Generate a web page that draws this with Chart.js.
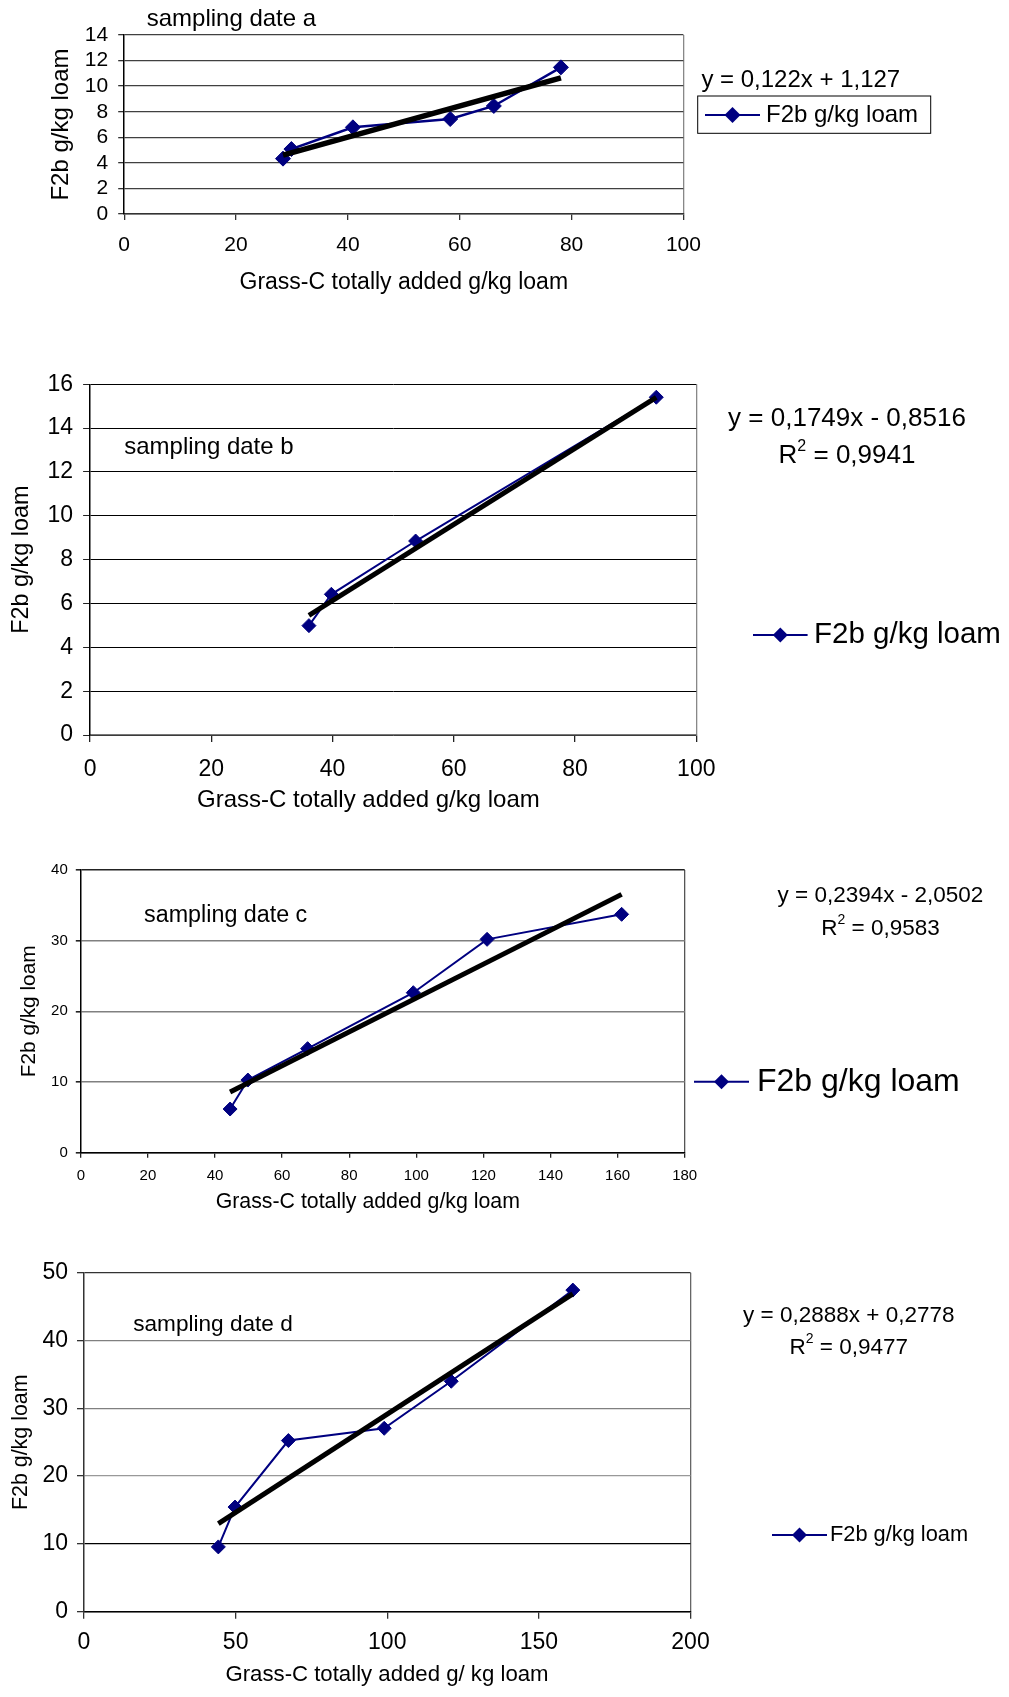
<!DOCTYPE html>
<html lang="en">
<head>
<meta charset="UTF-8">
<title>F2b vs Grass-C added</title>
<script src="https://cdn.jsdelivr.net/npm/chart.js"></script>
<style>
  body { margin: 0; background: #fff; }
  .page { position: relative; width: 1009px; height: 1697px; }
  canvas { position: absolute; left: 0; }
</style>
</head>
<body>
<div class="page">
  <canvas id="chartA" width="1009" height="300" style="top:0px"></canvas>
  <canvas id="chartB" width="1009" height="480" style="top:340px"></canvas>
  <canvas id="chartC" width="1009" height="370" style="top:850px"></canvas>
  <canvas id="chartD" width="1009" height="447" style="top:1250px"></canvas>
</div>
<script>
const FONT = "'Liberation Sans', Arial, sans-serif";
const NAVY = '#000080';

// sampling date a
const grassA = [28.4, 29.9, 40.9, 58.3, 66.1, 78.1];
const f2bA = [4.33, 5.08, 6.78, 7.43, 8.45, 11.47];
const trendXA = [28.4, 78.1];
const trendYA = [4.6, 10.65];

// sampling date b
const grassB = [36.1, 39.8, 53.7, 93.4];
const f2bB = [4.99, 6.42, 8.85, 15.41];
const trendXB = [36.1, 93.4];
const trendYB = [5.46, 15.4];

// sampling date c
const grassC = [44.5, 49.8, 67.6, 99.1, 121.1, 161.2];
const f2bC = [6.18, 10.28, 14.72, 22.64, 30.19, 33.73];
const trendXC = [44.5, 161.2];
const trendYC = [8.6, 36.55];

// sampling date d
const grassD = [44.3, 49.8, 67.4, 99.0, 121.1, 161.2];
const f2bD = [9.56, 15.44, 25.25, 27.06, 34.0, 47.45];
const trendXD = [44.3, 161.2];
const trendYD = [13.0, 46.9];

// axis ranges: [min, max, step]
const xTicksA = [0, 100, 20], yTicksA = [0, 14, 2];
const xTicksB = [0, 100, 20], yTicksB = [0, 16, 2];
const xTicksC = [0, 180, 20], yTicksC = [0, 40, 10];
const xTicksD = [0, 200, 50], yTicksD = [0, 50, 10];

const seriesName = 'F2b g/kg loam';
const yTitle = 'F2b g/kg loam';
const xTitles = ['Grass-C totally added g/kg loam', 'Grass-C totally added g/kg loam',
  'Grass-C totally added g/kg loam', 'Grass-C totally added g/ kg loam'];
const panelTitles = ['sampling date a', 'sampling date b', 'sampling date c', 'sampling date d'];
const equations = ['y = 0,122x + 1,127', 'y = 0,1749x - 0,8516', 'y = 0,2394x - 2,0502', 'y = 0,2888x + 0,2778'];
const rSquared = [null, '0,9941', '0,9583', '0,9477'];

function pts(xs, ys) {
  return xs.map((x, i) => ({ x: x, y: ys[i] }));
}

function diamond(ctx, x, y, r) {
  ctx.beginPath();
  ctx.moveTo(x - r, y);
  ctx.lineTo(x, y - r);
  ctx.lineTo(x + r, y);
  ctx.lineTo(x, y + r);
  ctx.closePath();
  ctx.fill();
}

// titles, equation, R2 and legend drawn on top of the chart
const notesPlugin = {
  id: 'notes',
  afterDraw(chart, args, o) {
    const ctx = chart.ctx;
    ctx.save();
    ctx.fillStyle = '#000';
    ctx.textBaseline = 'middle';

    ctx.textAlign = 'left';
    ctx.font = o.titleSize + 'px ' + FONT;
    ctx.fillText(o.title, o.titleX, o.titleY);

    ctx.textAlign = 'center';
    ctx.font = o.xTitleSize + 'px ' + FONT;
    ctx.fillText(o.xTitle, o.xTitleX, o.xTitleY);

    ctx.font = o.eqSize + 'px ' + FONT;
    ctx.fillText(o.eq, o.eqX, o.eqY);

    if (o.r2) {
      const big = o.eqSize + 'px ' + FONT;
      const small = Math.round(o.eqSize * 0.6) + 'px ' + FONT;
      ctx.font = big;
      const wR = ctx.measureText('R').width;
      const wRest = ctx.measureText(' = ' + o.r2).width;
      ctx.font = small;
      const w2 = ctx.measureText('2').width;
      let x = o.eqX - (wR + w2 + wRest) / 2;
      ctx.textAlign = 'left';
      ctx.font = big;
      ctx.fillText('R', x, o.r2Y);
      x += wR;
      ctx.font = small;
      ctx.fillText('2', x, o.r2Y - o.eqSize * 0.38);
      x += w2;
      ctx.font = big;
      ctx.fillText(' = ' + o.r2, x, o.r2Y);
    }

    const lg = o.legend;
    if (lg.box) {
      ctx.strokeStyle = '#000';
      ctx.lineWidth = 1;
      ctx.strokeRect(lg.box[0], lg.box[1], lg.box[2], lg.box[3]);
    }
    ctx.strokeStyle = NAVY;
    ctx.lineWidth = 2;
    ctx.beginPath();
    ctx.moveTo(lg.x0, lg.y);
    ctx.lineTo(lg.x1, lg.y);
    ctx.stroke();
    ctx.fillStyle = NAVY;
    diamond(ctx, (lg.x0 + lg.x1) / 2, lg.y, lg.r);
    ctx.fillStyle = '#000';
    ctx.textAlign = 'left';
    ctx.font = lg.size + 'px ' + FONT;
    ctx.fillText(seriesName, lg.tx, lg.y);
    ctx.restore();
  }
};

function makeChart(id, s) {
  const config = {
    type: 'scatter',
    data: {
      datasets: [
        {
          label: 'trend',
          data: pts(s.trendX, s.trendY),
          showLine: true,
          borderColor: '#000',
          borderWidth: s.trendWidth,
          pointRadius: 0,
          order: 0
        },
        {
          label: seriesName,
          data: pts(s.x, s.y),
          showLine: true,
          borderColor: NAVY,
          borderWidth: s.lineWidth,
          pointStyle: 'rectRot',
          pointRadius: s.markR,
          pointBackgroundColor: NAVY,
          pointBorderColor: NAVY,
          pointBorderWidth: 1,
          order: 1
        }
      ]
    },
    options: {
      responsive: false,
      animation: false,
      layout: { padding: s.pad },
      plugins: {
        legend: { display: false },
        tooltip: { enabled: false },
        notes: s.notes
      },
      scales: {
        x: {
          type: 'linear',
          min: s.xTicks[0], max: s.xTicks[1],
          afterFit: sc => { sc.height = s.xH; },
          ticks: {
            stepSize: s.xTicks[2], autoSkip: false, maxRotation: 0,
            color: '#000', padding: s.xPad,
            font: { family: FONT, size: s.tickSize }
          },
          grid: {
            drawOnChartArea: true,
            color: c => (c.tick && c.tick.value === s.xTicks[1]) ? s.rightColor : 'rgba(0,0,0,0)',
            lineWidth: 1.3,
            tickColor: s.tickColor,
            tickLength: s.tickLen
          },
          border: { color: s.bottomColor, width: 1.5 }
        },
        y: {
          min: s.yTicks[0], max: s.yTicks[1],
          afterFit: sc => { sc.width = s.yW; },
          ticks: {
            stepSize: s.yTicks[2], autoSkip: false, color: '#000', padding: s.yPad,
            font: { family: FONT, size: s.tickSize }
          },
          grid: {
            color: s.gridColor,
            lineWidth: s.gridWidth,
            tickColor: s.tickColor,
            tickLength: s.tickLen
          },
          border: { color: s.leftColor, width: 1.5 },
          title: {
            display: true, text: yTitle, color: '#000', padding: 0,
            font: { family: FONT, size: s.yTitleSize }
          }
        }
      }
    },
    plugins: [notesPlugin]
  };
  return new Chart(document.getElementById(id), config);
}

const chartA = makeChart('chartA', {
  x: grassA, y: f2bA, trendX: trendXA, trendY: trendYA,
  xTicks: xTicksA, yTicks: yTicksA,
  pad: { left: 46.6, right: 325.6, top: 35, bottom: 26 },
  yW: 77.6, xH: 60, tickSize: 21, yTitleSize: 24, tickLen: 6, xPad: 12.4, yPad: 10,
  lineWidth: 2.5, trendWidth: 5.5, markR: 7.5,
  gridColor: '#404040', gridWidth: 1.3, tickColor: '#333',
  leftColor: '#000', bottomColor: '#333', rightColor: '#888',
  notes: {
    title: panelTitles[0], titleX: 146.7, titleY: 19, titleSize: 24,
    xTitle: xTitles[0], xTitleX: 403.8, xTitleY: 283, xTitleSize: 23,
    eq: equations[0], eqX: 800.8, eqY: 80, eqSize: 24, r2: rSquared[0],
    legend: { box: [697.7, 96, 233, 37.3], x0: 705, x1: 760, y: 115, r: 8, tx: 766, size: 24 }
  }
});

const chartB = makeChart('chartB', {
  x: grassB, y: f2bB, trendX: trendXB, trendY: trendYB,
  xTicks: xTicksB, yTicks: yTicksB,
  pad: { left: 7.2, right: 312.7, top: 44.3, bottom: 25 },
  yW: 82.9, xH: 60, tickSize: 23, yTitleSize: 23.4, tickLen: 7, xPad: 13.5, yPad: 10,
  lineWidth: 2, trendWidth: 5, markR: 7,
  gridColor: '#000', gridWidth: 1, tickColor: '#222',
  leftColor: '#000', bottomColor: '#777', rightColor: '#888',
  notes: {
    title: panelTitles[1], titleX: 124.2, titleY: 107, titleSize: 24,
    xTitle: xTitles[1], xTitleX: 368.4, xTitleY: 460, xTitleSize: 24,
    eq: equations[1], eqX: 847, eqY: 79, eqSize: 26, r2: rSquared[1], r2Y: 116,
    legend: { box: null, x0: 753, x1: 807.6, y: 295, r: 7.5, tx: 814, size: 29.5 }
  }
});

const chartC = makeChart('chartC', {
  x: grassC, y: f2bC, trendX: trendXC, trendY: trendYC,
  xTicks: xTicksC, yTicks: yTicksC,
  pad: { left: 16.5, right: 324.3, top: 20, bottom: 17.3 },
  yW: 64.3, xH: 50, tickSize: 15, yTitleSize: 20.8, tickLen: 5, xPad: 9.3, yPad: 8,
  lineWidth: 2, trendWidth: 5, markR: 7,
  gridColor: c => (c.tick && c.tick.value === yTicksC[1]) ? '#222' : '#808080', gridWidth: 1.6, tickColor: '#222',
  leftColor: '#000', bottomColor: '#000', rightColor: '#555',
  notes: {
    title: panelTitles[2], titleX: 144.1, titleY: 66, titleSize: 23.3,
    xTitle: xTitles[2], xTitleX: 367.8, xTitleY: 352, xTitleSize: 21.3,
    eq: equations[2], eqX: 880.5, eqY: 46, eqSize: 22.5, r2: rSquared[2], r2Y: 79,
    legend: { box: null, x0: 694, x1: 749, y: 231.7, r: 7.5, tx: 757, size: 32 }
  }
});

const gridD = { 10: '#000', 20: '#999', 30: '#808080', 40: '#808080', 50: '#333' };
const chartD = makeChart('chartD', {
  x: grassD, y: f2bD, trendX: trendXD, trendY: trendYD,
  xTicks: xTicksD, yTicks: yTicksD,
  pad: { left: 8.4, right: 318.5, top: 21.7, bottom: 25.3 },
  yW: 75.6, xH: 60, tickSize: 23, yTitleSize: 21.4, tickLen: 7, xPad: 10.5, yPad: 9,
  lineWidth: 2, trendWidth: 5, markR: 7,
  gridColor: c => (c.tick && gridD[c.tick.value]) || '#808080', gridWidth: 1.3, tickColor: '#333',
  leftColor: '#333', bottomColor: '#000', rightColor: '#666',
  notes: {
    title: panelTitles[3], titleX: 133.2, titleY: 75, titleSize: 22.6,
    xTitle: xTitles[3], xTitleX: 387, xTitleY: 425, xTitleSize: 22.2,
    eq: equations[3], eqX: 848.8, eqY: 66, eqSize: 22.5, r2: rSquared[3], r2Y: 98,
    legend: { box: null, x0: 772, x1: 827, y: 285, r: 7.5, tx: 830, size: 21.8 }
  }
});
</script>
</body>
</html>
